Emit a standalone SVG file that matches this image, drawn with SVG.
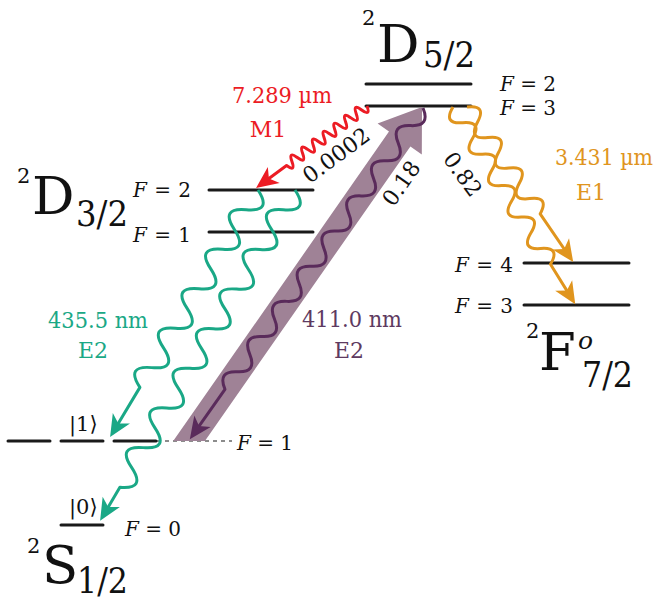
<svg xmlns="http://www.w3.org/2000/svg" width="659" height="601" viewBox="0 0 659 601" font-family="DejaVu Serif, serif">
<style>
.lv{stroke:#1a1a1a;stroke-width:3;stroke-linecap:round;fill:none}
text{font-family:DejaVu Serif,serif;fill:#111}
.big{font-size:53px}
.sub{font-size:36px}
.sup{font-size:21px}
.fl{font-size:20px}
.lab{font-size:22px}
.ket{font-size:21px}
.rot{font-size:22px}
.w{fill:none;stroke-width:3;stroke-linejoin:round}
.i{font-style:italic}
</style>
<defs>
<marker id="ahRed" viewBox="-16 -12 26 24" markerWidth="26" markerHeight="24" refX="0" refY="0" orient="auto" markerUnits="userSpaceOnUse"><path d="M8,0 L-14,-10 L-8,0 L-14,10 Z" fill="#ec1c24"/></marker>
<marker id="ahTeal" viewBox="-16 -12 26 24" markerWidth="26" markerHeight="24" refX="0" refY="0" orient="auto" markerUnits="userSpaceOnUse"><path d="M8,0 L-14,-10 L-8,0 L-14,10 Z" fill="#1aa886"/></marker>
<marker id="ahOrange" viewBox="-16 -12 26 24" markerWidth="26" markerHeight="24" refX="0" refY="0" orient="auto" markerUnits="userSpaceOnUse"><path d="M8,0 L-14,-10 L-8,0 L-14,10 Z" fill="#e0951e"/></marker>
<marker id="ahPurple" viewBox="-16 -12 26 24" markerWidth="26" markerHeight="24" refX="0" refY="0" orient="auto" markerUnits="userSpaceOnUse"><path d="M8,0 L-14,-10 L-8,0 L-14,10 Z" fill="#5a2b5b"/></marker>
</defs>

<g id="D52">
<line class="lv" x1="366" y1="84" x2="471" y2="84"/>
<line class="lv" x1="366" y1="106" x2="471" y2="106"/>
<text class="sup" x="362" y="25">2</text>
<text class="big" x="377" y="62">D</text>
<text class="sub" x="423" y="67" textLength="52" lengthAdjust="spacingAndGlyphs">5/2</text>
<text class="fl" x="500" y="91" textLength="56"><tspan class="i">F</tspan>=2</text>
<text class="fl" x="500" y="115" textLength="56"><tspan class="i">F</tspan>=3</text>
</g>

<g id="D32">
<line class="lv" x1="209" y1="190" x2="313" y2="190"/>
<line class="lv" x1="209" y1="232" x2="313" y2="232"/>
<text class="sup" x="17" y="183">2</text>
<text class="big" x="32" y="214">D</text>
<text class="sub" x="76" y="226" textLength="52" lengthAdjust="spacingAndGlyphs">3/2</text>
<text class="fl" x="133" y="197" textLength="58"><tspan class="i">F</tspan>=2</text>
<text class="fl" x="133" y="242" textLength="58"><tspan class="i">F</tspan>=1</text>
</g>

<g id="F72">
<line class="lv" x1="524" y1="263" x2="629" y2="263"/>
<line class="lv" x1="524" y1="305" x2="629" y2="305"/>
<text class="sup" x="526" y="338">2</text>
<text class="big" x="539" y="370">F</text>
<text class="i" x="578" y="349" style="font-size:25px">o</text>
<text class="sub" x="582" y="387" textLength="51" lengthAdjust="spacingAndGlyphs">7/2</text>
<text class="fl" x="455" y="272" textLength="58"><tspan class="i">F</tspan>=4</text>
<text class="fl" x="455" y="313" textLength="58"><tspan class="i">F</tspan>=3</text>
</g>

<g id="S12">
<line class="lv" x1="8" y1="441" x2="50" y2="441"/>
<line class="lv" x1="61" y1="441" x2="103" y2="441"/>
<line class="lv" x1="114" y1="441" x2="156" y2="441"/>
<line x1="157" y1="441" x2="232" y2="441" stroke="#1a1a1a" stroke-width="1.2" stroke-dasharray="4 4"/>
<line class="lv" x1="61" y1="525" x2="103" y2="525"/>
<text class="ket" x="69" y="431">|1⟩</text>
<text class="ket" x="69" y="514">|0⟩</text>
<text class="fl" x="237" y="450" textLength="56"><tspan class="i">F</tspan>=1</text>
<text class="fl" x="125" y="536" textLength="56"><tspan class="i">F</tspan>=0</text>
<text class="sup" x="27" y="553">2</text>
<text class="big" x="42" y="583">S</text>
<text class="sub" x="77" y="593" textLength="51" lengthAdjust="spacingAndGlyphs">1/2</text>
</g>

<g id="connectors">
<polygon points="173.2,441 389,131.6 377.6,123.6 422,107 421.8,154.4 410.4,146.4 204.9,441" fill="#9f8296"/>
<g transform="translate(423,108) rotate(125.15)">
<path class="w" stroke="#5a2b5b" stroke-width="2.6" marker-end="url(#ahPurple)" d="M0,0 q10.75,-17 21.5,0 t21.5,0 t21.5,0 t21.5,0 t21.5,0 t21.5,0 t21.5,0 t21.5,0 t21.5,0 t21.5,0 t21.5,0 t21.5,0 t21.5,0 t21.5,0 t21.5,0 t21.5,0 L397,0"/>
</g>
<g transform="translate(367,106) rotate(143.5)">
<path class="w" stroke="#ec1c24" marker-end="url(#ahRed)" d="M0,0 q3.33,-11 6.67,0 t6.67,0 t6.67,0 t6.67,0 t6.67,0 t6.67,0 t6.67,0 t6.67,0 t6.67,0 t6.67,0 t6.67,0 t6.67,0 t6.67,0 t6.67,0 t6.67,0 L130,0"/>
</g>
<g transform="translate(258,190) rotate(120.9)">
<path class="w" stroke="#1aa886" marker-end="url(#ahTeal)" d="M0,0 q11.5,-24 23,0 t23,0 t23,0 t23,0 t23,0 t23,0 t23,0 t23,0 t23,0 t23,0 L280,0"/>
</g>
<g transform="translate(295,190) rotate(120.5)">
<path class="w" stroke="#1aa886" marker-end="url(#ahTeal)" d="M0,0 q11.5,-24 23,0 t23,0 t23,0 t23,0 t23,0 t23,0 t23,0 t23,0 t23,0 t23,0 t23,0 t23,0 t23,0 t23,0 t23,0 L376,0"/>
</g>
<g transform="translate(467,107) rotate(55.6)">
<path class="w" stroke="#e0951e" marker-end="url(#ahOrange)" d="M0,0 q9.25,-18 18.5,0 t18.5,0 t18.5,0 t18.5,0 t18.5,0 t18.5,0 t18.5,0 L180,0"/>
</g>
<g transform="translate(453,107) rotate(58.2)">
<path class="w" stroke="#e0951e" marker-end="url(#ahOrange)" d="M0,0 q9.25,18 18.5,0 t18.5,0 t18.5,0 t18.5,0 t18.5,0 t18.5,0 t18.5,0 t18.5,0 t18.5,0 t18.5,0 L224,0"/>
</g>
</g>

<g id="labels">
<text class="lab" x="282" y="103" text-anchor="middle" style="fill:#ec1c24" textLength="100" lengthAdjust="spacingAndGlyphs">7.289 µm</text>
<text class="lab" x="268" y="137" text-anchor="middle" style="fill:#ec1c24">M1</text>
<text class="lab" x="604" y="165" text-anchor="middle" style="fill:#e0951e" textLength="98" lengthAdjust="spacingAndGlyphs">3.431 µm</text>
<text class="lab" x="591" y="200" text-anchor="middle" style="fill:#e0951e">E1</text>
<text class="lab" x="98" y="328" text-anchor="middle" style="fill:#1aa886" textLength="100" lengthAdjust="spacingAndGlyphs">435.5 nm</text>
<text class="lab" x="93" y="358" text-anchor="middle" style="fill:#1aa886">E2</text>
<text class="lab" x="352" y="327" text-anchor="middle" style="fill:#5e3a61" textLength="100" lengthAdjust="spacingAndGlyphs">411.0 nm</text>
<text class="lab" x="349" y="358" text-anchor="middle" style="fill:#5e3a61">E2</text>
<text class="rot" transform="translate(336,155) rotate(-36.5)" y="8" text-anchor="middle">0.0002</text>
<text class="rot" transform="translate(401,183) rotate(-55)" y="8" text-anchor="middle">0.18</text>
<text class="rot" transform="translate(463,174) rotate(54)" y="8" text-anchor="middle">0.82</text>
</g>
</svg>
